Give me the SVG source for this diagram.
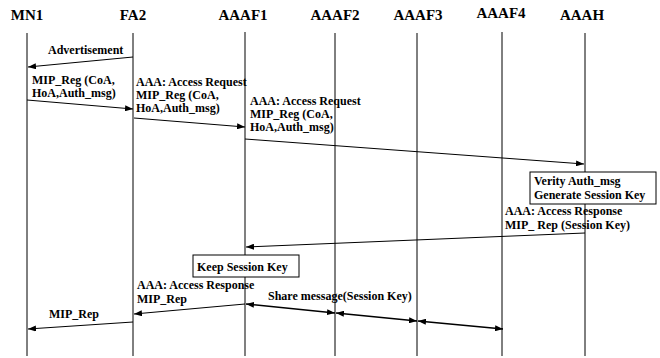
<svg xmlns="http://www.w3.org/2000/svg" width="660" height="358" viewBox="0 0 660 358">
  <style>
    .hdr { font-family: "Liberation Serif", "Times New Roman", serif; font-weight: bold; font-size: 15px; fill: #000; text-anchor: middle; }
    .lbl { font-family: "Liberation Serif", "Times New Roman", serif; font-weight: bold; font-size: 12px; fill: #000; }
    .life { stroke: #000; stroke-width: 1; fill: none; }
    .life-main { stroke: #808080; stroke-width: 2; fill: none; }
    .msg { stroke: #000; stroke-width: 1; fill: none; marker-end: url(#head); }
    .share { stroke: #000; stroke-width: 1.5; fill: none; marker-start: url(#head); marker-end: url(#head); }
    .box { fill: #fff; stroke: #000; stroke-width: 1; }
  </style>
  <defs>
    <marker id="head" markerUnits="userSpaceOnUse" markerWidth="9" markerHeight="6" refX="8" refY="3" orient="auto-start-reverse">
      <path d="M0,0 L8,3 L0,6 z" fill="#000"/>
    </marker>
  </defs>
  <rect width="660" height="358" fill="#fff"/>

  <!-- lifelines with their headers -->
  <g id="MN1"><text class="hdr" x="27" y="20">MN1</text><line class="life" x1="27" y1="33" x2="27" y2="356"/></g>
  <g id="FA2"><text class="hdr" x="133" y="20">FA2</text><line class="life" x1="133" y1="33" x2="133" y2="356"/></g>
  <g id="AAAF1"><text class="hdr" x="243" y="20">AAAF1</text><line class="life-main" x1="245" y1="32" x2="245" y2="356"/></g>
  <g id="AAAF2"><text class="hdr" x="335" y="20">AAAF2</text><line class="life" x1="335" y1="33" x2="335" y2="356"/></g>
  <g id="AAAF3"><text class="hdr" x="418" y="20">AAAF3</text><line class="life" x1="417" y1="33" x2="417" y2="356"/></g>
  <g id="AAAF4"><text class="hdr" x="501" y="18">AAAF4</text><line class="life" x1="502" y1="32" x2="502" y2="356"/></g>
  <g id="AAAH"><text class="hdr" x="582" y="20">AAAH</text><line class="life" x1="585" y1="33" x2="585" y2="356"/></g>

  <!-- processing boxes -->
  <g id="verify">
    <rect class="box" x="530" y="172" width="126" height="32"/>
    <text class="lbl" x="534" y="185">Verity Auth_msg</text>
    <text class="lbl" x="534" y="199">Generate Session Key</text>
  </g>
  <g id="keep">
    <rect class="box" x="193" y="255" width="106" height="22"/>
    <text class="lbl" x="197" y="271">Keep Session Key</text>
  </g>

  <!-- messages -->
  <g id="connectors">
    <line class="msg" x1="133" y1="57" x2="28" y2="67"/>
    <line class="msg" x1="27" y1="100" x2="133" y2="109"/>
    <line class="msg" x1="134" y1="118" x2="245" y2="127"/>
    <line class="msg" x1="245" y1="139" x2="584" y2="164"/>
    <line class="msg" x1="585" y1="233" x2="246" y2="247"/>
    <line class="msg" x1="245" y1="304" x2="134" y2="314"/>
    <line class="msg" x1="133" y1="322" x2="28" y2="329"/>
    <line class="share" x1="246" y1="304" x2="335" y2="313"/>
    <line class="share" x1="336" y1="313" x2="417" y2="321"/>
    <line class="share" x1="418" y1="321" x2="503" y2="329"/>
  </g>

  <!-- message labels -->
  <g id="labels">
    <text class="lbl" x="48" y="54">Advertisement</text>
    <text class="lbl" x="32" y="84">MIP_Reg (CoA,</text>
    <text class="lbl" x="32" y="97">HoA,Auth_msg)</text>
    <text class="lbl" x="136" y="86">AAA: Access Request</text>
    <text class="lbl" x="136" y="99">MIP_Reg (CoA,</text>
    <text class="lbl" x="136" y="112">HoA,Auth_msg)</text>
    <text class="lbl" x="250" y="105">AAA: Access Request</text>
    <text class="lbl" x="250" y="118">MIP_Reg (CoA,</text>
    <text class="lbl" x="250" y="131">HoA,Auth_msg)</text>
    <text class="lbl" x="505" y="215">AAA: Access Response</text>
    <text class="lbl" x="505" y="229">MIP_ Rep (Session Key)</text>
    <text class="lbl" x="137" y="289">AAA: Access Response</text>
    <text class="lbl" x="137" y="303">MIP_Rep</text>
    <text class="lbl" x="268" y="300">Share message(Session Key)</text>
    <text class="lbl" x="49" y="318">MIP_Rep</text>
  </g>
</svg>
